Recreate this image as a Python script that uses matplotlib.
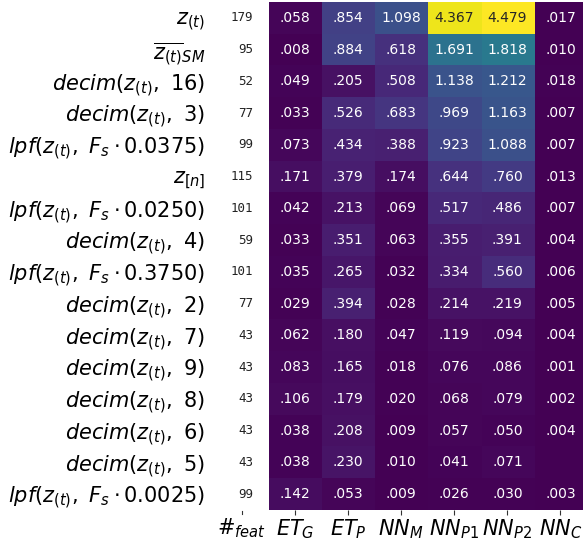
import numpy as np
import matplotlib
matplotlib.use("Agg")
import matplotlib.pyplot as plt
from matplotlib.colors import to_rgb

row_labels = [
    r"$z_{(t)}$",
    r"$\overline{z_{(t)}}_{SM}$",
    r"$decim(z_{(t)},\ 16)$",
    r"$decim(z_{(t)},\ 3)$",
    r"$lpf(z_{(t)},\ F_s\cdot0.0375)$",
    r"$z_{[n]}$",
    r"$lpf(z_{(t)},\ F_s\cdot0.0250)$",
    r"$decim(z_{(t)},\ 4)$",
    r"$lpf(z_{(t)},\ F_s\cdot0.3750)$",
    r"$decim(z_{(t)},\ 2)$",
    r"$decim(z_{(t)},\ 7)$",
    r"$decim(z_{(t)},\ 9)$",
    r"$decim(z_{(t)},\ 8)$",
    r"$decim(z_{(t)},\ 6)$",
    r"$decim(z_{(t)},\ 5)$",
    r"$lpf(z_{(t)},\ F_s\cdot0.0025)$",
]
col_labels = [r"$ET_G$", r"$ET_P$", r"$NN_M$", r"$NN_{P1}$", r"$NN_{P2}$", r"$NN_C$"]
feat_label = r"$\#_{feat}$"
n_feat = [179, 95, 52, 77, 99, 115, 101, 59, 101, 77, 43, 43, 43, 43, 43, 99]

et_g  = [.058, .008, .049, .033, .073, .171, .042, .033, .035, .029, .062, .083, .106, .038, .038, .142]
et_p  = [.854, .884, .205, .526, .434, .379, .213, .351, .265, .394, .180, .165, .179, .208, .230, .053]
nn_m  = [1.098, .618, .508, .683, .388, .174, .069, .063, .032, .028, .047, .018, .020, .009, .010, .009]
nn_p1 = [4.367, 1.691, 1.138, .969, .923, .644, .517, .355, .334, .214, .119, .076, .068, .057, .041, .026]
nn_p2 = [4.479, 1.818, 1.212, 1.163, 1.088, .760, .486, .391, .560, .219, .094, .086, .079, .050, .071, .030]
nn_c  = [.017, .010, .018, .007, .007, .013, .007, .004, .006, .005, .004, .001, .002, .004, np.nan, .003]

data = np.array([et_g, et_p, nn_m, nn_p1, nn_p2, nn_c], dtype=float).T
nrows, ncols = data.shape

fig = plt.figure(figsize=(5.83, 5.44), dpi=100)
ax = fig.add_axes([268.5 / 583, 34 / 544, (587 - 268.5) / 583, 508 / 544])
cmap = plt.get_cmap("viridis")
vmin, vmax = 0.0, np.nanmax(data)
ax.set_facecolor(cmap(0.0))
ax.imshow(data, cmap=cmap, vmin=vmin, vmax=vmax, aspect="auto",
          extent=(-0.5, ncols - 0.5, nrows - 0.5, -0.5), interpolation="nearest")
ax.set_xlim(-0.5, ncols - 0.5)
ax.set_ylim(nrows - 0.5, -0.5)

def fmt(v):
    s = f"{v:.3f}"
    if s.startswith("0"):
        s = s[1:]
    return s

def lum(c):
    r, g, b = to_rgb(c)
    def f(x):
        return x / 12.92 if x <= 0.03928 else ((x + 0.055) / 1.055) ** 2.4
    return 0.2126 * f(r) + 0.7152 * f(g) + 0.0722 * f(b)

for i in range(nrows):
    for j in range(ncols):
        v = data[i, j]
        if np.isnan(v):
            continue
        c = cmap((v - vmin) / (vmax - vmin))
        tc = "#262626" if lum(c) > 0.408 else "white"
        ax.text(j, i, fmt(v), ha="center", va="center", color=tc, fontsize=10)

# feature count column
for i, n in enumerate(n_feat):
    ax.text(-0.79, i, str(n), ha="right", va="center", fontsize=9,
            family="DejaVu Sans Mono", color="#222222", clip_on=False)

for s in ax.spines.values():
    s.set_visible(False)

ax.set_xticks(range(ncols))
ax.set_xticklabels(col_labels, fontsize=15)
ax.tick_params(axis="x", length=3.5, width=0.8, color="#333333", pad=2)
# extra tick for #feat
ax.plot([-1, -1], [nrows - 0.5 + 0.03, nrows - 0.5 + 0.12], color="#333333", lw=0.8, clip_on=False)
ax.text(-1, nrows - 0.5 + 0.2, feat_label, ha="center", va="top", fontsize=15, clip_on=False)

ax.set_yticks(range(nrows))
ax.set_yticklabels(row_labels, fontsize=15)
ax.tick_params(axis="y", length=0, pad=45.7)

fig.savefig("out.png", dpi=100)
